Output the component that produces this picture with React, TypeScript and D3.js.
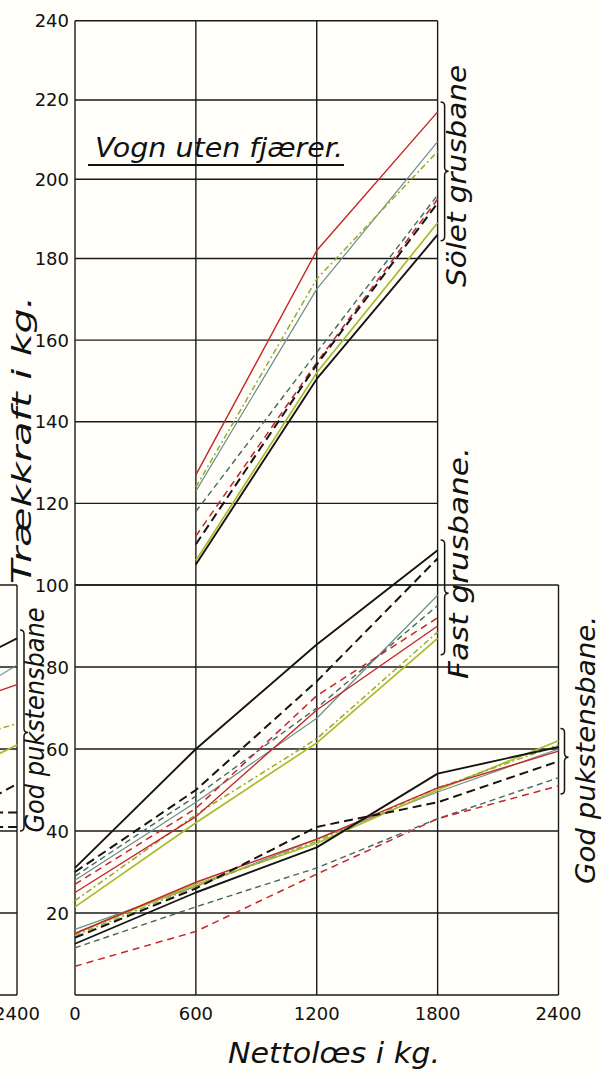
import React, { useEffect, useRef } from 'react';
import * as d3 from 'd3';

const W = 604;
const H = 1075;

// loads in kg (x) for each road type
const soletLoads = [600, 1200, 1800];
const fastLoads = [0, 600, 1200, 1800];
const pukLoads = [0, 600, 1200, 1800, 2400];
const leftLoads = [1800, 2400];

const xTicks = [0, 600, 1200, 1800, 2400];
const yTicks = [20, 40, 60, 80, 100, 120, 140, 160, 180, 200, 220, 240];

// Sölet grusbane (trækkraft kg)
const soletBlack = [105, 150.5, 186];
const soletBlackDash = [110, 154, 194];
const soletRed = [127, 182, 217];
const soletRedDash = [112, 154.5, 195];
const soletGreen = [106, 152, 189];
const soletGreenDash = [124, 175, 207];
const soletTeal = [123, 172.5, 209.5];
const soletTealDash = [118, 157, 196];

// Fast grusbane
const fastBlack = [31, 60, 85.5, 108.5];
const fastBlackDash = [30, 50, 76.5, 106.5];
const fastRed = [25, 43.5, 69.5, 90];
const fastRedDash = [27, 45.5, 73, 92];
const fastGreen = [21.5, 42, 61.5, 87];
const fastGreenDash = [23, 44, 62.5, 88.5];
const fastTeal = [28, 47, 67.5, 97.5];
const fastTealDash = [29, 48.5, 70, 95];

// God pukstensbane
const pukBlack = [12.5, 25, 36, 54, 60.5];
const pukBlackDash = [14, 26, 41, 47, 57];
const pukRed = [15, 27.5, 38, 50.5, 59.5];
const pukRedDash = [7, 15.5, 29.5, 43, 51];
const pukGreen = [15, 27, 37, 50, 62];
const pukGreenDash = [14.5, 26.5, 37.5, 50.5, 61];
const pukTeal = [16, 26.5, 38, 49.5, 60];
const pukTealDash = [11.5, 21.5, 31, 43, 53];

// the chart cut off on the left edge (god pukstensbane, other wagon)
const leftBlack = [72, 87];
const leftTeal = [62.5, 80.5];
const leftRed = [65.5, 75.7];
const leftGreenDash = [57.5, 66.2];
const leftGreen = [46.5, 61];
const leftBlackDash = [35, 51.5];
const leftBoxTop = [44.5, 44.5];
const leftBoxBottom = [41, 41];

const styles = {
  teal: { stroke: '#6a8f8e', width: 1.2, dash: null },
  tealDash: { stroke: '#3e6968', width: 1.4, dash: '6,4' },
  green: { stroke: '#a9bb2b', width: 1.7, dash: null },
  greenDash: { stroke: '#95ab30', width: 1.5, dash: '6,3,2,3' },
  red: { stroke: '#c4262c', width: 1.4, dash: null },
  redDash: { stroke: '#c4262c', width: 1.5, dash: '7,5' },
  blackDash: { stroke: '#141414', width: 2, dash: '9,5' },
  black: { stroke: '#141414', width: 1.9, dash: null },
};

const groups = [
  { loads: soletLoads, series: { teal: soletTeal, tealDash: soletTealDash, green: soletGreen, greenDash: soletGreenDash, red: soletRed, redDash: soletRedDash, blackDash: soletBlackDash, black: soletBlack } },
  { loads: fastLoads, series: { teal: fastTeal, tealDash: fastTealDash, green: fastGreen, greenDash: fastGreenDash, red: fastRed, redDash: fastRedDash, blackDash: fastBlackDash, black: fastBlack } },
  { loads: pukLoads, series: { teal: pukTeal, tealDash: pukTealDash, green: pukGreen, greenDash: pukGreenDash, red: pukRed, redDash: pukRedDash, blackDash: pukBlackDash, black: pukBlack } },
];

const leftSeries = [
  ['teal', leftTeal], ['green', leftGreen], ['greenDash', leftGreenDash], ['red', leftRed],
  ['blackDash', leftBlackDash], ['blackDash', leftBoxTop], ['blackDash', leftBoxBottom], ['black', leftBlack],
];

// curly brace pointing right
const brace = (bx, y1, y2, ym, w) => {
  const h = w / 2;
  return `M${bx},${y1} Q${bx + h},${y1} ${bx + h},${y1 + h} L${bx + h},${ym - h} Q${bx + h},${ym} ${bx + w},${ym}` +
    ` Q${bx + h},${ym} ${bx + h},${ym + h} L${bx + h},${y2 - h} Q${bx + h},${y2} ${bx},${y2}`;
};

export default function App() {
  const ref = useRef(null);

  useEffect(() => {
    const svg = d3.select(ref.current);
    svg.selectAll('*').remove();

    const x = d3.scaleLinear().domain([0, 2400]).range([75, 558.5]);
    const xl = d3.scaleLinear().domain([0, 2400]).range([17 - 483.5, 17]);
    // the paper is a little warped, so y is piecewise
    const y = d3.scaleLinear().domain([0, 100, 180, 240]).range([995, 585, 258.5, 20.7]);

    svg.append('rect').attr('width', W).attr('height', H).attr('fill', '#fffef8');

    const grid = svg.append('g').attr('stroke', '#1a1a1a').attr('stroke-width', 1.4).attr('fill', 'none');
    const hline = (x1, x2, v) => grid.append('line').attr('x1', x1).attr('x2', x2).attr('y1', y(v)).attr('y2', y(v));
    const vline = (xx, v1, v2) => grid.append('line').attr('x1', xx).attr('x2', xx).attr('y1', y(v1)).attr('y2', y(v2));

    [0].concat(yTicks).forEach((v) => {
      if (v >= 100) hline(x(0), x(1800), v);
      if (v <= 100) hline(x(0), x(2400), v);
      if (v <= 100) hline(xl(1800), xl(2400), v);
    });
    [0, 600, 1200, 1800].forEach((t) => vline(x(t), 0, 240));
    vline(x(2400), 0, 100);
    vline(xl(2400), 0, 100);

    // tick labels
    const font = 'DejaVu Sans, sans-serif';
    svg.append('g').selectAll('text').data(yTicks).join('text')
      .attr('x', x(0) - 6).attr('y', (d) => y(d) + 6.5)
      .attr('text-anchor', 'end').attr('font-family', font).attr('font-size', 18).attr('fill', '#111')
      .text((d) => d);
    svg.append('g').selectAll('text').data(xTicks).join('text')
      .attr('x', (d) => x(d)).attr('y', 1020)
      .attr('text-anchor', 'middle').attr('font-family', font).attr('font-size', 18).attr('fill', '#111')
      .text((d) => d);
    svg.append('text').attr('x', xl(2400)).attr('y', 1020)
      .attr('text-anchor', 'middle').attr('font-family', font).attr('font-size', 18).attr('fill', '#111')
      .text('2400');

    // the curves
    const lines = svg.append('g').attr('fill', 'none').attr('stroke-linejoin', 'round');
    groups.forEach((g) => {
      Object.keys(g.series).forEach((k) => {
        const st = styles[k];
        const pts = g.loads.map((l, i) => [l, g.series[k][i]]);
        const line = d3.line().x((d) => x(d[0])).y((d) => y(d[1]));
        lines.append('path').attr('d', line(pts))
          .attr('stroke', st.stroke).attr('stroke-width', st.width)
          .attr('stroke-dasharray', st.dash);
      });
    });
    leftSeries.forEach(([k, vals]) => {
      const st = styles[k];
      const line = d3.line().x((d) => xl(d[0])).y((d) => y(d[1]));
      lines.append('path').attr('d', line(leftLoads.map((l, i) => [l, vals[i]])))
        .attr('stroke', st.stroke).attr('stroke-width', st.width)
        .attr('stroke-dasharray', st.dash);
    });

    // braces
    const br = svg.append('g').attr('fill', 'none').attr('stroke', '#151515').attr('stroke-width', 1.5);
    br.append('path').attr('d', brace(x(1800) + 3, y(219.5), y(184.5), y(202), 8));
    br.append('path').attr('d', brace(x(1800) + 3, y(111), y(83), y(98), 8));
    br.append('path').attr('d', brace(x(2400) + 2, y(65), y(49), y(58), 8));
    br.append('path').attr('d', brace(xl(2400) + 3, y(89), y(40), y(64), 8));

    // rotated labels
    const vlabel = (bx, cy, txt, len) => svg.append('text')
      .attr('transform', `translate(${bx},${cy}) rotate(-90)`)
      .attr('text-anchor', 'middle').attr('font-family', font).attr('font-style', 'italic')
      .attr('font-size', 27).attr('fill', '#111')
      .attr('textLength', len).attr('lengthAdjust', 'spacingAndGlyphs')
      .text(txt);
    vlabel(466, 176, 'Sölet grusbane', 222);
    vlabel(468, 563, 'Fast grusbane.', 232);
    vlabel(595, 750, 'God pukstensbane.', 268);
    vlabel(44, 720, 'God pukstensbane', 225);
    vlabel(31, 440, 'Trækkraft i kg.', 288);

    svg.append('text').attr('x', 95).attr('y', 157)
      .attr('font-family', font).attr('font-style', 'italic').attr('font-size', 26).attr('fill', '#111')
      .attr('textLength', 248).attr('lengthAdjust', 'spacingAndGlyphs')
      .text('Vogn uten fjærer.');
    svg.append('line').attr('x1', 88).attr('x2', 344).attr('y1', 165).attr('y2', 165)
      .attr('stroke', '#111').attr('stroke-width', 2);

    svg.append('text').attr('x', 228).attr('y', 1063)
      .attr('font-family', font).attr('font-style', 'italic').attr('font-size', 28).attr('fill', '#111')
      .attr('textLength', 212).attr('lengthAdjust', 'spacingAndGlyphs')
      .text('Nettolœs i kg.');
  }, []);

  return (
    <svg ref={ref} width={W} height={H} style={{ position: 'absolute', left: 0, top: 0, display: 'block' }} />
  );
}
